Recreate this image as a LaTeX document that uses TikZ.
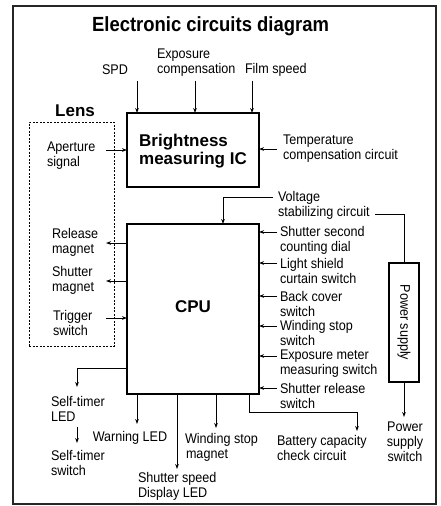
\documentclass[tikz,border=0pt]{standalone}
\usepackage{fontspec}
\setmainfont{Liberation Sans}
\newfontfamily\condfont{Liberation Sans}[FakeStretch=0.9]
\usetikzlibrary{arrows.meta}
\begin{document}
\begin{tikzpicture}[x=1pt,y=-1pt,
  every node/.style={inner sep=0pt, outer sep=0pt},
  lbl/.style={font=\condfont\fontsize{14}{15}\selectfont, align=left},
  boldlbl/.style={font=\fontsize{17}{18}\selectfont\bfseries, align=left},
  arr/.style={-{Stealth[length=5pt,width=3.6pt]}, line width=0.9pt},
  wire/.style={line width=0.9pt},
  blk/.style={draw, line width=1.2pt}]
\useasboundingbox (0,0) rectangle (441,506);
\draw[line width=1.2pt, draw=black!85] (13,6) rectangle (436,504);

\node[font=\condfont\fontsize{20.5}{22}\selectfont\bfseries] (title) at (210.5,26) {Electronic circuits diagram};

% blocks
\node[blk, minimum width=132pt, minimum height=74pt] (bic) at (193,150) {};
\node[boldlbl] (bictext) at (193,151) {Brightness\\measuring IC};
\node[blk, minimum width=132pt, minimum height=170pt] (cpu) at (193,309) {};
\node[boldlbl] (cputext) at (193,307) {CPU};
\node[blk, minimum width=30pt, minimum height=119pt] (ps) at (404,322.5) {};
\node[lbl, rotate=-90] (pstext) at (ps.center) {Power supply};
\node[draw, dash pattern=on 2pt off 1.5pt, line width=0.9pt, minimum width=85pt, minimum height=224pt] (lensbox) at (71.5,234) {};
\node[boldlbl] (lens) at (75,111) {Lens};

% top inputs
\node[lbl, anchor=west] (spd) at (102,70) {SPD};
\node[lbl, anchor=west] (expc) at (157,62.5) {Exposure\\compensation};
\node[lbl, anchor=west] (film) at (245,70) {Film speed};
\coordinate (a1) at (137,81);
\coordinate (a2) at (195,81);
\coordinate (a3) at (252,81);
\draw[arr] (a1) -- (a1 |- bic.north);
\draw[arr] (a2) -- (a2 |- bic.north);
\draw[arr] (a3) -- (a3 |- bic.north);

% aperture
\node[lbl, anchor=west] (aper) at (47,155.5) {Aperture\\signal};
\coordinate (ap) at (106,150);
\draw[arr] (ap) -- (ap -| bic.west);

% temperature
\node[lbl, anchor=west] (temp) at (283,149) {Temperature\\compensation circuit};
\coordinate (tp) at (277,149);
\draw[arr] (tp) -- (tp -| bic.east);

% voltage stabilizing
\node[lbl, anchor=west] (volt) at (278,205) {Voltage\\stabilizing circuit};
\coordinate (v1) at (273,197);
\coordinate (v2) at (223,197);
\draw[arr] (v1) -- (v2) -- (v2 |- cpu.north);
\coordinate (v3) at (375,214);
\draw[wire] (v3) -- (v3 -| ps.north) -- (ps.north);

% power supply switch
\coordinate (pse) at (404,417);
\draw[arr] (ps.south) -- (pse);
\node[lbl, align=center] (pss) at (405,442) {Power\\supply\\switch};

% right inputs
\node[lbl, anchor=west] (r1) at (280,240) {Shutter second\\counting dial};
\node[lbl, anchor=west] (r2) at (280,271) {Light shield\\curtain switch};
\node[lbl, anchor=west] (r3) at (280,303.5) {Back cover\\switch};
\node[lbl, anchor=west] (r4) at (280,333) {Winding stop\\switch};
\node[lbl, anchor=west] (r5) at (280,364) {Exposure meter\\measuring switch};
\node[lbl, anchor=west] (r6) at (280,396) {Shutter release\\switch};
\coordinate (ra1) at (277,232);
\coordinate (ra2) at (277,263);
\coordinate (ra3) at (277,296);
\coordinate (ra4) at (277,326);
\coordinate (ra5) at (277,356);
\coordinate (ra6) at (277,388);
\foreach \c in {ra1,ra2,ra3,ra4,ra5,ra6} {\draw[arr] (\c) -- (\c -| cpu.east);}

% left outputs
\node[lbl, anchor=west] (l1) at (52,242) {Release\\magnet};
\node[lbl, anchor=west] (l2) at (52,280) {Shutter\\magnet};
\node[lbl, anchor=west] (l3) at (53,322.5) {Trigger\\switch};
\coordinate (la1) at (106,243);
\coordinate (la2) at (106,281);
\coordinate (la3) at (106,318);
\draw[arr] (la1 -| cpu.west) -- (la1);
\draw[arr] (la2 -| cpu.west) -- (la2);
\draw[arr] (la3) -- (la3 -| cpu.west);

% self-timer
\coordinate (st1) at (77,368);
\coordinate (st2) at (77,387);
\draw[arr] (st1 -| cpu.west) -- (st1) -- (st2);
\node[lbl, anchor=west] (stled) at (51,408.5) {Self-timer\\LED};
\coordinate (st3) at (77,427);
\coordinate (st4) at (77,443);
\draw[arr] (st3) -- (st4);
\node[lbl, anchor=west] (stsw) at (51,462.5) {Self-timer\\switch};

% bottom outputs
\coordinate (b1) at (137,424);
\draw[arr] (b1 |- cpu.south) -- (b1);
\node[lbl] (warn) at (130,438) {Warning LED};
\coordinate (b2) at (177,469);
\draw[arr] (b2 |- cpu.south) -- (b2);
\node[lbl, anchor=west] (ssd) at (138,486.5) {Shutter speed\\Display LED};
\coordinate (b3) at (216,428);
\draw[arr] (b3 |- cpu.south) -- (b3);
\node[lbl, anchor=west] (wsm) at (185,447) {Winding stop\\\hspace*{1pt}magnet};
\coordinate (b4) at (249,412);
\coordinate (b5) at (357,412);
\coordinate (b6) at (357,431);
\draw[arr] (b4 |- cpu.south) -- (b4) -- (b5) -- (b6);
\node[lbl, anchor=west] (batt) at (277,447.5) {Battery capacity\\check circuit};
\end{tikzpicture}
\end{document}
